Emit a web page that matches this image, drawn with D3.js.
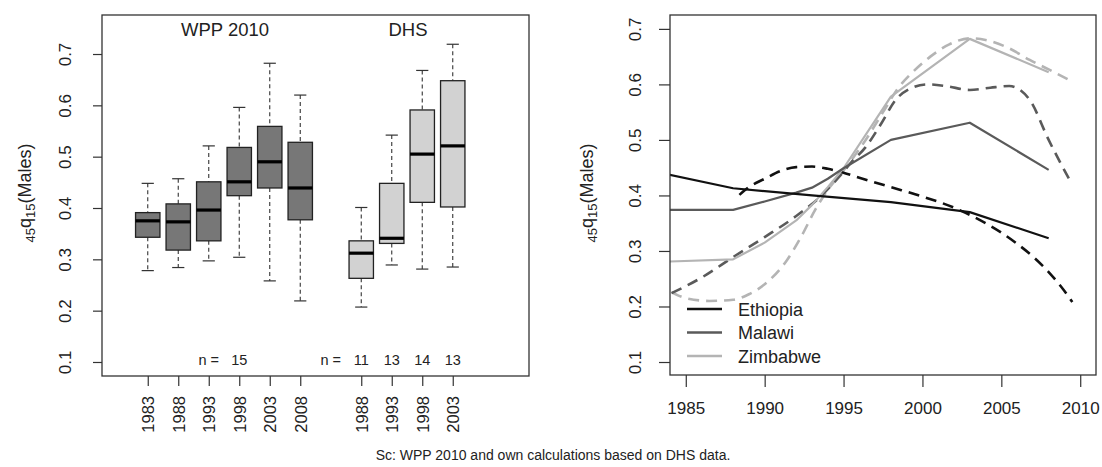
<!DOCTYPE html>
<html><head><meta charset="utf-8">
<script src="https://cdn.jsdelivr.net/npm/d3@7"></script>
<style>
html,body{margin:0;padding:0;background:#fff;}
svg text{font-family:"Liberation Sans",Arial,Helvetica,sans-serif;fill:#222;}
</style></head>
<body>
<svg id="chart" width="1102" height="467"></svg>
<script>
// ---------- Left panel: boxplot data ----------
const wppYears = ["1983","1988","1993","1998","2003","2008"];
const wppLow   = [0.278,0.284,0.297,0.304,0.258,0.219];
const wppQ1    = [0.343,0.318,0.336,0.424,0.439,0.377];
const wppMed   = [0.375,0.373,0.396,0.451,0.490,0.439];
const wppQ3    = [0.391,0.408,0.451,0.518,0.559,0.528];
const wppHigh  = [0.448,0.457,0.521,0.596,0.682,0.620];
const wppN     = ["15"];

const dhsYears = ["1988","1993","1998","2003"];
const dhsLow   = [0.207,0.289,0.281,0.285];
const dhsQ1    = [0.263,0.331,0.411,0.402];
const dhsMed   = [0.312,0.341,0.505,0.521];
const dhsQ3    = [0.336,0.448,0.591,0.648];
const dhsHigh  = [0.401,0.542,0.668,0.719];
const dhsN     = ["11","13","14","13"];

const yTicks = [0.1,0.2,0.3,0.4,0.5,0.6,0.7];

// ---------- Right panel: line data ----------
const countries = ["Ethiopia","Malawi","Zimbabwe"];
const xTicksR = [1985,1990,1995,2000,2005,2010];

const ethSolidYears = [1983,1988,1993,1998,2003,2008];
const ethSolidVals  = [0.443,0.413,0.400,0.388,0.370,0.323];
const malSolidYears = [1983,1988,1990,1992,1993,1994,1995,1998,2003,2008];
const malSolidVals  = [0.374,0.374,0.389,0.405,0.414,0.430,0.449,0.500,0.531,0.446];
const zimSolidYears = [1983,1988,1990,1992,1993,1994,1995,1998,2003,2008];
const zimSolidVals  = [0.280,0.285,0.315,0.355,0.383,0.415,0.449,0.578,0.682,0.622];

const ethDashYears = [1988.4,1989,1990,1991,1992,1993,1994,1995,1996,1998,2000,2002,2003,2004,2005,2006,2007,2008,2009,2009.5];
const ethDashVals  = [0.401,0.415,0.430,0.444,0.451,0.452,0.448,0.441,0.432,0.415,0.398,0.378,0.365,0.350,0.333,0.313,0.290,0.262,0.228,0.208];
const malDashYears = [1984.1,1986,1988,1990,1992,1993.5,1994.7,1995.5,1996.4,1997.4,1998.3,1999.2,2000.3,2001.5,2003,2004.3,2005.5,2006.8,2008,2009.4];
const malDashVals  = [0.224,0.252,0.289,0.325,0.363,0.397,0.433,0.460,0.487,0.530,0.572,0.592,0.600,0.597,0.590,0.594,0.597,0.572,0.500,0.424];
const zimDashYears = [1984.1,1985,1986.5,1988,1989,1990,1991.4,1992.3,1993.2,1994,1995,1996.4,1997.5,1998.5,1999.2,2000.5,2001.7,2003,2004,2005.5,2006.8,2008,2009.5];
const zimDashVals  = [0.226,0.215,0.210,0.212,0.222,0.240,0.283,0.325,0.374,0.410,0.445,0.500,0.550,0.595,0.617,0.650,0.672,0.683,0.680,0.665,0.644,0.627,0.605];

const caption = "Sc: WPP 2010 and own calculations based on DHS data.";

// ---------- drawing ----------
const svg = d3.select("#chart");
const FONT = 17;

// Left panel scales
const xL = d3.scaleLinear().domain([-0.5, 13.5]).range([102, 529]);
const yL = d3.scaleLinear().domain([0.0727, 0.776]).range([376, 15]);
const boxW = 0.8, capW = 0.4;

const left = svg.append("g");

function drawBoxes(years, low, q1, med, q3, high, offset, fill) {
  years.forEach((yr, i) => {
    const p = i + offset;
    const g = left.append("g");
    g.append("line").attr("x1", xL(p)).attr("x2", xL(p)).attr("y1", yL(high[i])).attr("y2", yL(q3[i]))
      .attr("stroke", "#333").attr("stroke-width", 1.1).attr("stroke-dasharray", "4,3");
    g.append("line").attr("x1", xL(p)).attr("x2", xL(p)).attr("y1", yL(q1[i])).attr("y2", yL(low[i]))
      .attr("stroke", "#333").attr("stroke-width", 1.1).attr("stroke-dasharray", "4,3");
    [low[i], high[i]].forEach(v => {
      g.append("line").attr("x1", xL(p - capW/2)).attr("x2", xL(p + capW/2)).attr("y1", yL(v)).attr("y2", yL(v))
        .attr("stroke", "#333").attr("stroke-width", 1.2);
    });
    g.append("rect").attr("x", xL(p - boxW/2)).attr("width", xL(p + boxW/2) - xL(p - boxW/2))
      .attr("y", yL(q3[i])).attr("height", yL(q1[i]) - yL(q3[i]))
      .attr("fill", fill).attr("stroke", "#222").attr("stroke-width", 1.3);
    g.append("line").attr("x1", xL(p - boxW/2)).attr("x2", xL(p + boxW/2)).attr("y1", yL(med[i])).attr("y2", yL(med[i]))
      .attr("stroke", "#000").attr("stroke-width", 3.2);
  });
}
drawBoxes(wppYears, wppLow, wppQ1, wppMed, wppQ3, wppHigh, 1, "#777777");
drawBoxes(dhsYears, dhsLow, dhsQ1, dhsMed, dhsQ3, dhsHigh, 8, "#d2d2d2");

left.append("rect").attr("x", 102).attr("y", 15).attr("width", 427).attr("height", 361)
  .attr("fill", "none").attr("stroke", "#333").attr("stroke-width", 1.3);

const yAxL = left.append("g").attr("transform", "translate(102,0)")
  .call(d3.axisLeft(yL).tickValues(yTicks).tickSize(9).tickFormat(d3.format(".1f")));
yAxL.select(".domain").remove();
yAxL.selectAll(".tick line").attr("stroke", "#333").attr("stroke-width", 1.2);
yAxL.selectAll(".tick text").attr("x", null).attr("dy", null)
  .attr("text-anchor", "middle").attr("font-size", FONT)
  .attr("transform", "translate(-31,0) rotate(-90)");

const leftPos = wppYears.map((d, i) => ({label: d, pos: i + 1})).concat(dhsYears.map((d, i) => ({label: d, pos: i + 8})));
const xAxL = left.append("g").attr("transform", "translate(0,376)")
  .call(d3.axisBottom(xL).tickValues(leftPos.map(d => d.pos)).tickSize(10)
    .tickFormat(v => leftPos.find(d => d.pos === v).label));
xAxL.select(".domain").remove();
xAxL.selectAll(".tick line").attr("stroke", "#333").attr("stroke-width", 1.2);
xAxL.selectAll(".tick text").attr("y", null).attr("dy", null)
  .attr("text-anchor", "end").attr("font-size", 16.5)
  .attr("transform", "translate(6,20) rotate(-90)");

const nY = 365;
left.append("text").attr("x", xL(3)).attr("y", nY).attr("text-anchor", "middle").attr("font-size", 14.5).text("n =");
left.append("text").attr("x", xL(4)).attr("y", nY).attr("text-anchor", "middle").attr("font-size", 14.5).text(wppN[0]);
left.append("text").attr("x", xL(7)).attr("y", nY).attr("text-anchor", "middle").attr("font-size", 14.5).text("n =");
dhsN.forEach((n, i) => left.append("text").attr("x", xL(i + 8)).attr("y", nY).attr("text-anchor", "middle").attr("font-size", 14.5).text(n));

left.append("text").attr("x", 225).attr("y", 36).attr("text-anchor", "middle").attr("font-size", 18.5).text("WPP 2010");
left.append("text").attr("x", 408).attr("y", 36).attr("text-anchor", "middle").attr("font-size", 18.5).text("DHS");

function yTitle(x, y) {
  const t = svg.append("text").attr("transform", `translate(${x},${y}) rotate(-90)`).attr("text-anchor", "middle");
  t.append("tspan").attr("font-size", 13).attr("dy", 4).text("45");
  t.append("tspan").attr("font-size", 18).attr("dy", -4).text("q");
  t.append("tspan").attr("font-size", 13).attr("dy", 4).text("15");
  t.append("tspan").attr("font-size", 18).attr("dy", -4).text("(Males)");
}
yTitle(31, 193);
yTitle(593, 193);

// ---------- Right panel ----------
const xR = d3.scaleLinear().domain([1984, 2011]).range([670, 1096]);
const yR = d3.scaleLinear().domain([0.0766, 0.725]).range([375, 15]);
const right = svg.append("g");
svg.append("defs").append("clipPath").attr("id", "clipR").append("rect")
  .attr("x", 670).attr("y", 15).attr("width", 426).attr("height", 360);

const colors = {Ethiopia: "#111111", Malawi: "#5a5a5a", Zimbabwe: "#b4b4b4"};
const solidSeries = [
  {c: "Ethiopia", x: ethSolidYears, y: ethSolidVals},
  {c: "Malawi", x: malSolidYears, y: malSolidVals},
  {c: "Zimbabwe", x: zimSolidYears, y: zimSolidVals}
];
const dashSeries = [
  {c: "Zimbabwe", x: zimDashYears, y: zimDashVals},
  {c: "Malawi", x: malDashYears, y: malDashVals},
  {c: "Ethiopia", x: ethDashYears, y: ethDashVals}
];
const lineLin = d3.line().x(d => xR(d[0])).y(d => yR(d[1]));
const lineSmooth = d3.line().curve(d3.curveMonotoneX).x(d => xR(d[0])).y(d => yR(d[1]));
const plotR = right.append("g").attr("clip-path", "url(#clipR)");

dashSeries.forEach(s => {
  plotR.append("path").datum(s.x.map((x, i) => [x, s.y[i]])).attr("d", lineSmooth)
    .attr("fill", "none").attr("stroke", colors[s.c]).attr("stroke-width", 2.6)
    .attr("stroke-dasharray", "11,7");
});
solidSeries.slice().reverse().forEach(s => {
  plotR.append("path").datum(s.x.map((x, i) => [x, s.y[i]])).attr("d", lineLin)
    .attr("fill", "none").attr("stroke", colors[s.c]).attr("stroke-width", 2.2)
    .attr("stroke-linejoin", "round");
});

right.append("rect").attr("x", 670).attr("y", 15).attr("width", 426).attr("height", 360)
  .attr("fill", "none").attr("stroke", "#333").attr("stroke-width", 1.3);

const yAxR = right.append("g").attr("transform", "translate(670,0)")
  .call(d3.axisLeft(yR).tickValues(yTicks).tickSize(11).tickFormat(d3.format(".1f")));
yAxR.select(".domain").remove();
yAxR.selectAll(".tick line").attr("stroke", "#333").attr("stroke-width", 1.2);
yAxR.selectAll(".tick text").attr("x", null).attr("dy", null)
  .attr("text-anchor", "middle").attr("font-size", FONT)
  .attr("transform", "translate(-29,0) rotate(-90)");

const xAxR = right.append("g").attr("transform", "translate(0,375)")
  .call(d3.axisBottom(xR).tickValues(xTicksR).tickSize(12).tickFormat(d3.format("d")));
xAxR.select(".domain").remove();
xAxR.selectAll(".tick line").attr("stroke", "#333").attr("stroke-width", 1.2);
xAxR.selectAll(".tick text").attr("y", 39).attr("dy", null).attr("font-size", FONT);

const lg = right.append("g");
countries.forEach((c, i) => {
  const y = 309 + i * 23.5;
  lg.append("line").attr("x1", 687).attr("x2", 722).attr("y1", y).attr("y2", y)
    .attr("stroke", colors[c]).attr("stroke-width", 2.6);
  lg.append("text").attr("x", 738).attr("y", y + 6.5).attr("font-size", 18).text(c);
});

svg.append("text").attr("x", 553).attr("y", 460).attr("text-anchor", "middle").attr("font-size", 14).text(caption);
</script>
</body></html>
